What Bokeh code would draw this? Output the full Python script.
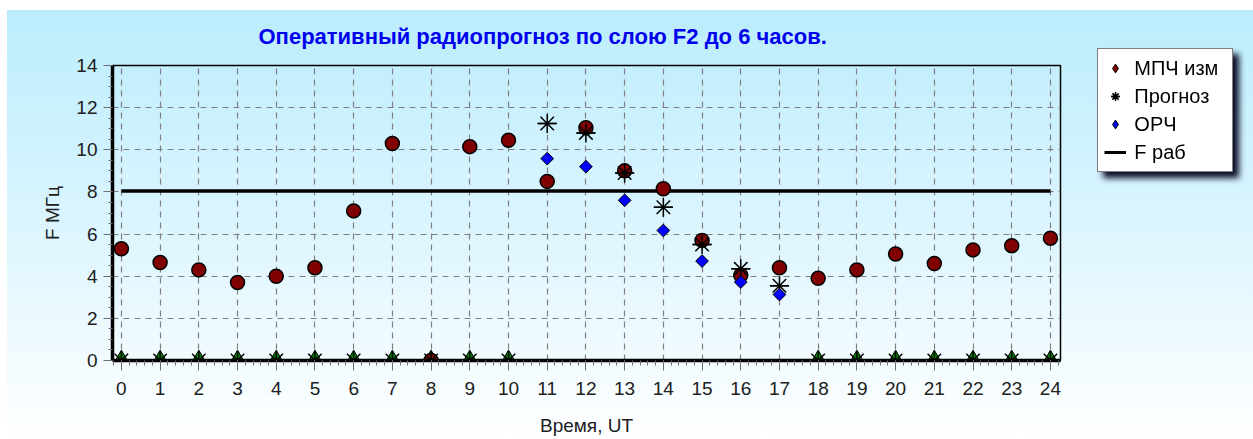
from bokeh.plotting import figure
from bokeh.layouts import column
from bokeh.models import (ColumnDataSource, Legend, LegendItem, SingleIntervalTicker, Range1d)
from bokeh.embed import file_html
from bokeh.resources import INLINE

# ---- data ----
hours = list(range(25))
mpch = [5.3, 4.65, 4.3, 3.7, 4.0, 4.4, 7.1, 10.3, 0.0, 10.15, 10.45, 8.5, 11.05,
        9.0, 8.15, 5.7, 4.05, 4.4, 3.9, 4.3, 5.05, 4.6, 5.25, 5.45, 5.8]
prog_hours = [11, 12, 13, 14, 15, 16, 17]
prognoz = [11.25, 10.8, 8.9, 7.27, 5.5, 4.35, 3.55]
orch = [9.58, 9.2, 7.6, 6.17, 4.72, 3.72, 3.13]
nodata_hours = [0, 1, 2, 3, 4, 5, 6, 7, 8, 9, 10, 18, 19, 20, 21, 22, 23, 24]
nodata_vals = [0.0] * len(nodata_hours)
f_rab = [8.05] * len(hours)

title_text = "Оперативный радиопрогноз  по слою F2 до 6 часов."
x_label = "Время, UT"
y_label = "F МГц"
legend_labels = ["МПЧ изм", "Прогноз", "ОРЧ", "F раб"]

FONT = "Liberation Sans"
ROT = 0.7853981634

fig = figure(width=1253, height=439, output_backend="svg", toolbar_location=None,
             x_range=Range1d(-0.23, 24.26), y_range=Range1d(0, 14),
             min_border_left=112, min_border_right=193, min_border_top=65,
             min_border_bottom=79)
fig.styles = {
    "background-image": "linear-gradient(to bottom, #bbedfd 0%, #d8f4fe 45%, #ffffff 100%)",
    "background-repeat": "no-repeat",
    "background-position": "7px 10px",
    "background-size": "calc(100% - 7px) calc(100% - 10px)",
    "background-color": "white",
}
fig.border_fill_color = None
fig.background_fill_color = None
fig.outline_line_color = "black"
fig.outline_line_width = 1.5

# title
fig.title.text = title_text
fig.title.text_font = FONT
fig.title.text_font_size = "22px"
fig.title.text_font_style = "bold"
fig.title.text_color = "#0000ee"
fig.title.align = "left"
fig.title.offset = 146
fig.title.standoff = 33

# axes
fig.xaxis.ticker = SingleIntervalTicker(interval=1, num_minor_ticks=5)
fig.yaxis.ticker = SingleIntervalTicker(interval=2, num_minor_ticks=4)
for ax in (fig.xaxis[0], fig.yaxis[0]):
    ax.axis_line_width = 3.5
    ax.axis_line_color = "black"
    ax.major_tick_in = 0
    ax.minor_tick_in = 0
    ax.major_tick_line_color = "#707070"
    ax.minor_tick_line_color = "#707070"
    ax.major_label_text_font = FONT
    ax.major_label_text_font_size = "19px"
    ax.major_label_text_color = "#202020"
    ax.axis_label_text_font = FONT
    ax.axis_label_text_font_size = "19px"
    ax.axis_label_text_font_style = "normal"
    ax.axis_label_text_color = "#202020"
fig.xaxis.major_tick_out = 10
fig.xaxis.minor_tick_out = 5
fig.xaxis.major_label_standoff = 11
fig.xaxis.axis_label = x_label
fig.xaxis.axis_label_standoff = 17
fig.yaxis.major_tick_out = 9
fig.yaxis.minor_tick_out = 4
fig.yaxis.major_label_standoff = 6
fig.yaxis.axis_label = y_label
fig.yaxis.axis_label_standoff = 10

for g in (fig.xgrid[0], fig.ygrid[0]):
    g.grid_line_color = "#808080"
    g.grid_line_dash = "6 5"
    g.grid_line_width = 1.2

# F раб line
fig.line(hours, f_rab, line_color="black", line_width=3.5)

# markers at zero for hours without forecast
fig.scatter(nodata_hours, nodata_vals, marker="triangle", size=18,
            fill_color="#008000", line_color="black", line_width=1)

# МПЧ изм
fig.scatter(hours, mpch, marker="circle", size=14, fill_color="#800000",
            line_color="black", line_width=1.5)

# Прогноз (8-arm asterisk) including zeros
all_prog_h = nodata_hours + prog_hours
all_prog_v = nodata_vals + prognoz
fig.scatter(all_prog_h, all_prog_v, marker="asterisk", size=19, line_color="black", line_width=1.5)
fig.scatter(all_prog_h, all_prog_v, marker="dash", size=19, line_color="black", line_width=1.5)

# ОРЧ
fig.scatter(prog_hours, orch, marker="square", angle=ROT, size=9, fill_color="#0000ff",
            line_color="black", line_width=1)

# ---- legend box: a small transparent figure laid over the right side ----
leg = figure(width=180, height=150, output_backend="svg", toolbar_location=None,
             x_range=Range1d(0, 1), y_range=Range1d(0, 1),
             x_axis_location=None, y_axis_location=None,
             min_border=0, min_border_left=0, min_border_right=0,
             min_border_top=0, min_border_bottom=0)
leg.grid.visible = False
leg.background_fill_color = None
leg.border_fill_color = None
leg.outline_line_color = None
leg.styles = {"position": "absolute", "left": "1078px", "top": "47px",
              "filter": "drop-shadow(6px 6px 3px rgba(0,0,25,0.95))"}

off = dict(x=[-10, -11], y=[-10, -11])
l1 = leg.scatter("x", "y", source=ColumnDataSource(off), marker="diamond", size=13,
                 fill_color="#800000", line_color="black")
l2a = leg.scatter("x", "y", source=ColumnDataSource(off), marker="asterisk", size=15,
                  line_color="black", line_width=1.5)
l2b = leg.scatter("x", "y", source=ColumnDataSource(off), marker="dash", size=15,
                  line_color="black", line_width=1.5)
l3 = leg.scatter("x", "y", source=ColumnDataSource(off), marker="diamond", size=13,
                 fill_color="#0000ff", line_color="black")
l4 = leg.line("x", "y", source=ColumnDataSource(off), line_color="black", line_width=3)

legend = Legend(items=[LegendItem(label=legend_labels[0], renderers=[l1]),
                       LegendItem(label=legend_labels[1], renderers=[l2a, l2b]),
                       LegendItem(label=legend_labels[2], renderers=[l3]),
                       LegendItem(label=legend_labels[3], renderers=[l4])],
                location="top_left", margin=1, padding=6, spacing=2,
                glyph_height=26, glyph_width=22, label_height=26, label_width=92,
                label_standoff=8, label_text_font=FONT, label_text_font_size="20px",
                label_text_color="black", border_line_color="black",
                border_line_width=1.5, background_fill_color="white",
                background_fill_alpha=1.0)
leg.add_layout(legend, "center")

p = column(fig, leg)

open("out.html", "w").write(file_html(p, INLINE))
